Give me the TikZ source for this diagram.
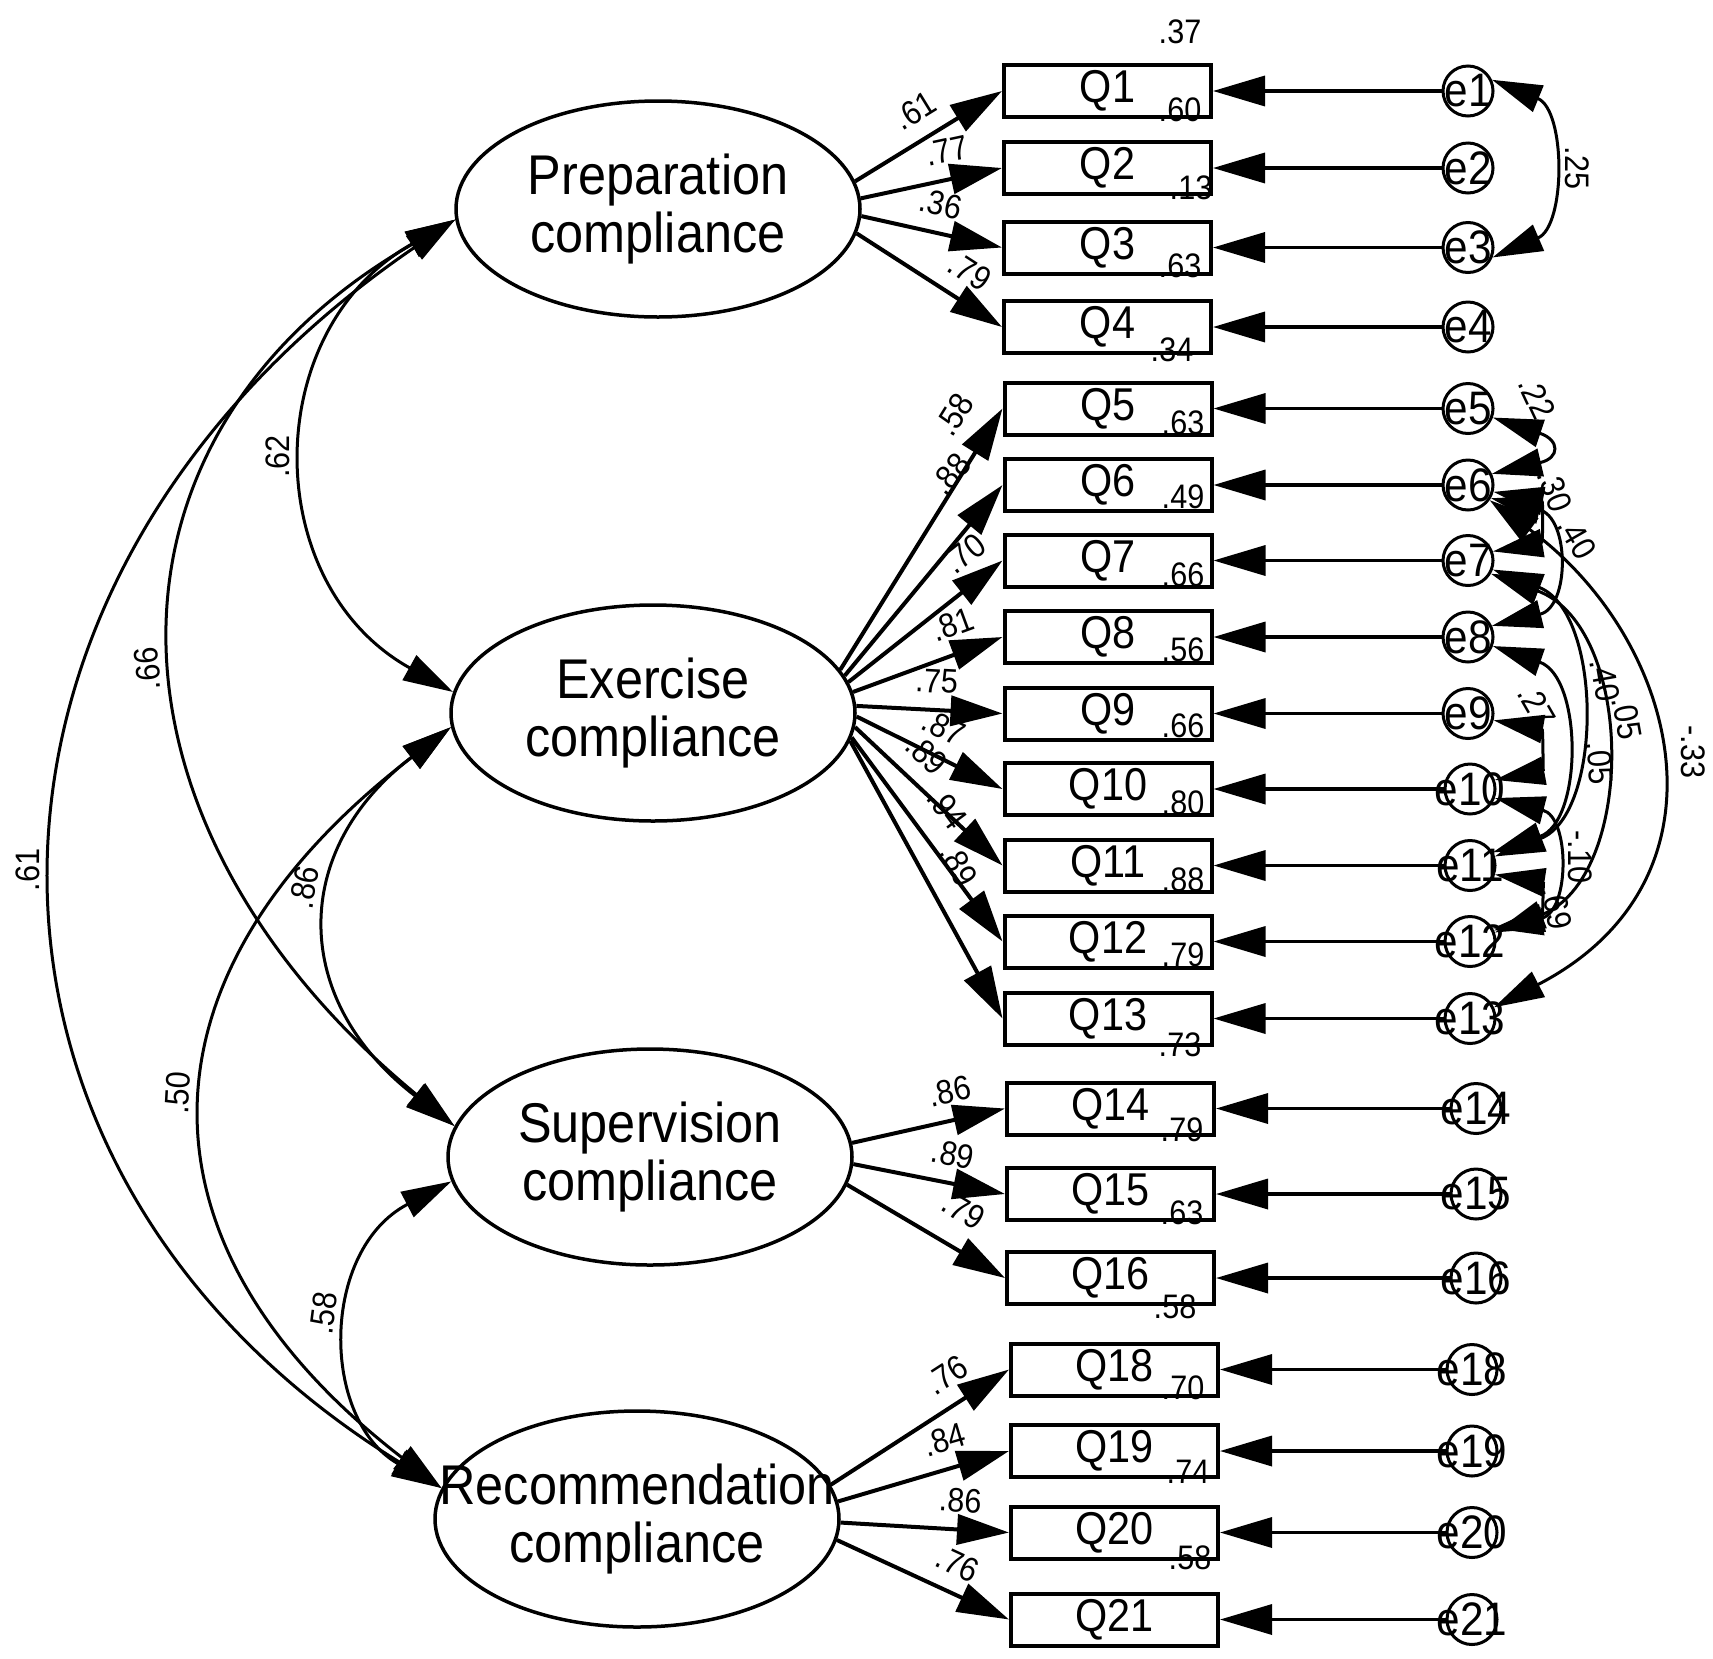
\documentclass[tikz,border=0pt]{standalone}
\usepackage{fontspec}
\setmainfont[FakeStretch=0.9]{Liberation Sans}
\usetikzlibrary{arrows.meta,shapes.geometric}
\begin{document}
\begin{tikzpicture}[x=1pt,y=-1pt,
  latent/.style={ellipse,draw,line width=3.5pt,minimum width=404pt,minimum height=216pt,inner sep=0pt},
  lattext/.style={font=\fontsize{56}{58}\selectfont,align=center,inner sep=0pt},
  obs/.style={rectangle,draw,line width=4pt,minimum width=207pt,minimum height=52pt,inner sep=0pt,font=\fontsize{46}{46}\selectfont},
  err/.style={circle,draw,line width=3pt,minimum size=50pt,inner sep=0pt,font=\fontsize{47}{47}\selectfont},
  tipend/.style={-{Triangle[length=52pt,width=30pt]}},
  load/.style={line width=4pt,tipend},
  errarr/.style={line width=3.5pt,tipend},
  cov/.style={line width=3pt,{Triangle[length=50pt,width=28pt]}-{Triangle[length=50pt,width=28pt]}},
  lbl/.style={font=\fontsize{34}{34}\selectfont,sloped,above=13pt,inner sep=2pt},
  clbl/.style={font=\fontsize{34}{34}\selectfont,sloped,allow upside down,above=14pt,inner sep=2pt},
  elbl/.style={font=\fontsize{34}{34}\selectfont,inner sep=1pt},
  rsq/.style={font=\fontsize{34}{34}\selectfont,inner sep=0pt}
]
\useasboundingbox (0,0) rectangle (1713,1658);

% latent variables
\node[latent] (P) at (658,209) {};
\node[lattext] (Pt) at (P) {Preparation\\compliance};
\node[latent] (E) at (653,713) {};
\node[lattext] (Et) at (E) {Exercise\\compliance};
\node[latent] (S) at (650,1157) {};
\node[lattext] (St) at (S) {Supervision\\compliance};
\node[latent] (R) at (637,1519) {};
\node[lattext] (Rt) at (R) {Recommendation\\compliance};

% observed variables
\foreach \n/\x/\y in {1/1107.5/91,2/1107.5/168,3/1107.5/247.5,4/1107.5/327,
  5/1108/408.5,6/1108/485,7/1108/560.5,8/1108/637,9/1108/713.5,10/1108/789,11/1108/865.5,12/1108/941.5,13/1108/1018.5,
  14/1110.5/1108.5,15/1110.5/1194,16/1110.5/1278,
  18/1114.5/1369.5,19/1114.5/1451,20/1114.5/1532.5,21/1114.5/1619.5}
  {\node[obs] (Q\n) at (\x,\y) {Q\n};}

% error terms
\foreach \n/\x/\y in {1/1468/91,2/1468/168,3/1468/247.5,4/1468/327,
  5/1468/408.5,6/1468/485,7/1468/560.5,8/1468/637,9/1468/713.5,10/1470/789,11/1470/865.5,12/1470/941.5,13/1470/1018.5,
  14/1476/1108.5,15/1476/1194,16/1476/1278,
  18/1472/1369.5,19/1472/1451,20/1472/1532.5,21/1472/1619.5}
  {\node[err] (e\n) at (\x,\y) {\makebox[0pt]{e\n}};
   \draw[errarr] (e\n) -- (Q\n.east);}

% loadings
\draw[load] (P.8) -- (Q1.west) node[lbl,pos=0.51]{.61};
\draw[load] (P.3) -- (Q2.west) node[lbl,pos=0.65]{.77};
\draw[load] (P.-2) -- (Q3.west) node[lbl,pos=0.52]{.36};
\draw[load] (P.-7) -- (Q4.west) node[lbl,pos=0.67]{.79};

\draw[load] (E.13) -- (Q5.west) node[lbl,pos=0.9,above=9pt]{.58};
\draw[load] (E.11) -- (Q6.west) node[lbl,pos=0.9,above=18pt]{.88};
\draw[load] (E.9) -- (Q7.west) node[lbl,pos=0.87]{.70};
\draw[load] (E.6) -- (Q8.west) node[lbl,pos=0.73]{.81};
\draw[load] (E.2) -- (Q9.west) node[lbl,pos=0.54]{.75};
\draw[load] (E.-1) -- (Q10.west) node[lbl,pos=0.51]{.87};
\draw[load] (E.-4) -- (Q11.west) node[lbl,pos=0.35]{.89};
\draw[load] (E.-7) -- (Q12.west) node[lbl,pos=0.45,above=6pt]{.94};
\draw[load] (E.-8) -- (Q13.west) node[lbl,pos=0.51,above=6pt]{.89};

\draw[load] (S.4) -- (Q14.west) node[lbl,pos=0.68]{.86};
\draw[load] (S.-2) -- (Q15.west) node[lbl,pos=0.62]{.89};
\draw[load] (S.-8) -- (Q16.west) node[lbl,pos=0.62,above=8pt]{.79};

\draw[load] (R.10) -- (Q18.west) node[lbl,pos=0.74]{.76};
\draw[load] (R.5) -- (Q19.west) node[lbl,pos=0.67]{.84};
\draw[load] (R.-1) -- (Q20.west) node[lbl,pos=0.7]{.86};
\draw[load] (R.-6) -- (Q21.west) node[lbl,pos=0.63]{.76};

% squared multiple correlations
\foreach \i/\x/\y/\t in {1/1180/32/.37,2/1180/110/.60,3/1191/188/.13,4/1180/266/.63,5/1172/350/.34,
  6/1183/423/.63,7/1183/497/.49,8/1183/575/.66,9/1183/650/.56,10/1183/726/.66,11/1183/803/.80,
  12/1183/880/.88,13/1183/955/.79,14/1180/1045/.73,15/1182/1130/.79,16/1182/1213/.63,17/1175/1307/.58,
  18/1183/1388/.70,19/1188/1472/.74,20/1190/1558/.58}
  {\node[rsq] (r\i) at (\x,\y) {\t};}

% latent covariances
\draw[cov] (E.174) .. controls (259,584) and (259,330) .. (P.183) node[clbl,pos=0.5]{.62};
\draw[cov] (S.171) .. controls (83,819) and (83,433) .. (P.183) node[clbl,pos=0.47]{.66};
\draw[cov] (R.171) .. controls (-73,1171) and (-73,580) .. (P.183) node[clbl,pos=0.5]{.61};
\draw[cov] (S.171) .. controls (290,1000) and (290,850) .. (E.184) node[clbl,pos=0.58]{.86};
\draw[cov] (R.171) .. controls (127,1246) and (127,976) .. (E.184) node[clbl,pos=0.52]{.50};
\draw[cov] (R.171) .. controls (320,1420) and (320,1250) .. (S.187) node[clbl,pos=0.55]{.58};

% error covariances
\draw[cov] (e1.25) .. controls (1566,110) and (1566,226) .. (e3.-22) node[clbl,pos=0.5]{.25};
\draw[cov] (e5.-20) .. controls (1560,440) and (1560,458) .. (e6.25)
  node[elbl,rotate=-65,at={(1537,398)}]{.22};
\draw[cov] (e6.-15) .. controls (1543,501) and (1543,543) .. (e7.20)
  node[elbl,rotate=-70,at={(1555,490)}]{.30};
\draw[cov] (e6.-30) .. controls (1570,517) and (1570,607) .. (e8.25)
  node[elbl,rotate=-60,at={(1577,538)}]{.40};
\draw[cov] (e6.-35) .. controls (1680,640) and (1740,880) .. (e13.25)
  node[elbl,rotate=-90,at={(1693,752)}]{-.33};
\draw[cov] (e7.-20) .. controls (1603,612) and (1603,814) .. (e11.20)
  node[elbl,rotate=-80,at={(1605,680)}]{.40};
\draw[cov] (e7.-30) .. controls (1636,627) and (1636,879) .. (e12.20)
  node[elbl,rotate=-80,at={(1627,718)}]{.05};
\draw[cov] (e8.-20) .. controls (1583,677) and (1583,822) .. (e11.30)
  node[elbl,rotate=-85,at={(1600,763)}]{.05};
\draw[cov] (e9.-15) .. controls (1543,729) and (1543,771) .. (e10.20)
  node[elbl,rotate=-60,at={(1537,706)}]{.27};
\draw[cov] (e10.-20) .. controls (1570,817) and (1570,911) .. (e12.25)
  node[elbl,rotate=-90,at={(1580,857)}]{-.10};
\draw[cov] (e11.-20) .. controls (1543,882) and (1543,921) .. (e12.30)
  node[elbl,rotate=-80,at={(1557,908)}]{.69};
\end{tikzpicture}
\end{document}
